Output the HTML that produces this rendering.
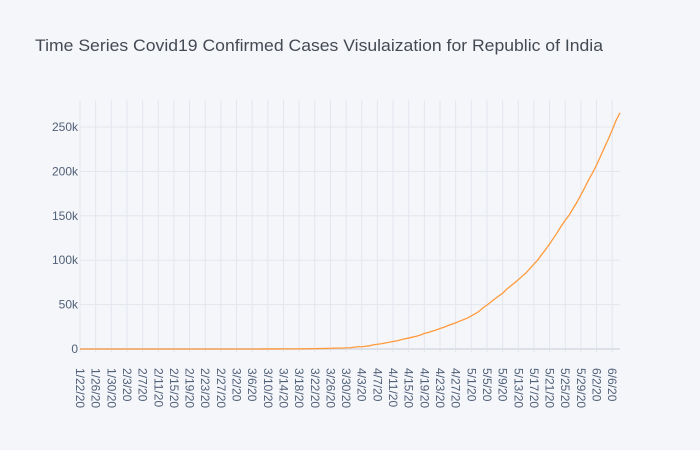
<!DOCTYPE html>
<html><head><meta charset="utf-8"><style>
body{margin:0;background:#f5f6fa;}
svg{display:block;font-family:"Liberation Sans",sans-serif;}
</style></head><body>
<svg id="c" width="700" height="450">
<rect width="700" height="450" fill="#f5f6fa"/>
<text x="35" y="51" font-size="17" fill="#444a54" textLength="568" lengthAdjust="spacingAndGlyphs">Time Series Covid19 Confirmed Cases Visulaization for Republic of India</text>
<g id="grid"></g><g id="yt"></g><g id="xt"></g><g id="series"></g>
</svg>
<script>
const startDate = [2020, 0, 22];
const values = [0,0,0,0,0,0,0,0,1,1,1,2,3,3,3,3,3,3,3,3,3,3,3,3,3,3,3,3,3,3,3,3,3,3,3,3,3,3,3,3,5,5,28,30,31,34,39,43,56,62,73,82,102,113,119,142,156,194,244,330,396,499,536,657,727,887,987,1024,1251,1397,1998,2543,2567,3082,3588,4778,5311,5916,6725,7598,8446,9205,10453,11487,12322,13430,14352,15722,17615,18539,20080,21370,23077,24530,26283,27890,29451,31324,33062,34863,37257,39699,42505,46437,49400,52987,56351,59695,62808,67161,70768,74292,78055,81997,85784,90648,95698,100328,106475,112028,118226,124794,131423,138536,144950,150793,158086,165386,173491,181827,190609,198370,207191,216824,226713,236184,246622,257486,265928];
const yTicks = [0,50000,100000,150000,200000,250000];
const yTickLabels = ["0","50k","100k","150k","200k","250k"];
const categories = [];
for (let i = 0; i < values.length; i++) {
  const d = new Date(startDate[0], startDate[1], startDate[2] + i);
  categories.push((d.getMonth()+1) + "/" + d.getDate() + "/20");
}
const NS = "http://www.w3.org/2000/svg";
const L = 80, R = 620, T = 100, B = 352;
const x = i => L + i * (R - L) / (values.length - 1);
const y = v => 349 - v * (222 / 250000);
function mk(tag, attrs, parent) {
  const e = document.createElementNS(NS, tag);
  for (const k in attrs) e.setAttribute(k, attrs[k]);
  document.getElementById(parent).appendChild(e);
  return e;
}
for (let i = 0; i < categories.length; i += 4) {
  const g = mk("line", {x1:x(i), x2:x(i), y1:T, y2:B, stroke:"#e3e6ee", "stroke-width":1}, "grid");
  
  
  const t = mk("text", {transform:`translate(${x(i)-4},368) rotate(90)`, "font-size":12, fill:"#506078"}, "xt");
  t.textContent = categories[i];
  
  
}
yTicks.forEach((v, k) => {
  const g = mk("line", {x1:L, x2:R, y1:y(v), y2:y(v), stroke: v===0 ? "#dde0e8" : "#e3e6ee", "stroke-width": v===0 ? 2 : 1}, "grid");
  
  
  const t = mk("text", {x:L-2, y:y(v)+4, "font-size":12, fill:"#506078", "text-anchor":"end"}, "yt");
  t.textContent = yTickLabels[k];
  
  
});
const pts = values.map((v, i) => x(i).toFixed(2) + "," + y(v).toFixed(2)).join(" ");
const line = mk("polyline", {points:pts, fill:"none", stroke:"#ff9a3c", "stroke-width":1.3}, "series");


</script>
</body></html>
